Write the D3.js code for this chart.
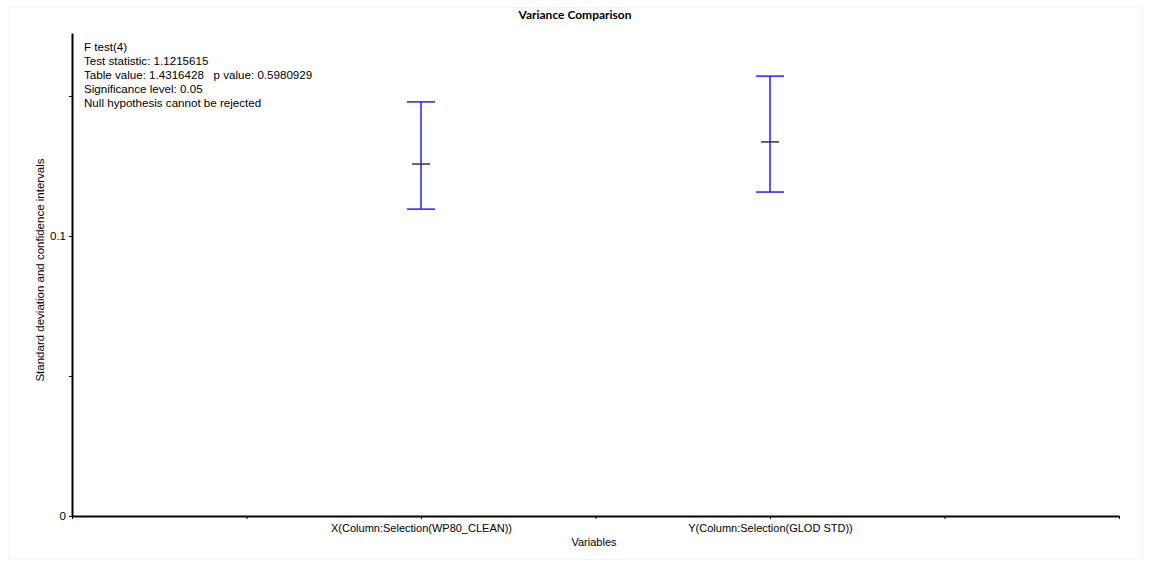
<!DOCTYPE html>
<html lang="en">
<head>
<meta charset="UTF-8">
<title>Variance Comparison</title>
<style>
    body { margin: 0; background: #fff; font-family: "Liberation Sans", Arial, sans-serif; }
    #chart { display: block; }
    .axis path, .axis line { stroke: #000; }
    .axis text { fill: #000; font-family: "Liberation Sans", Arial, sans-serif; }
</style>
</head>
<body>
<svg id="chart" width="1151" height="568"></svg>
<script src="https://d3js.org/d3.v7.min.js"></script>
<script>
// data
const categories = ["X(Column:Selection(WP80_CLEAN))", "Y(Column:Selection(GLOD STD))"];
const catPositions = [2, 4];
const stdDev = [0.1257, 0.1336];
const ciLower = [0.1096, 0.1157];
const ciUpper = [0.1479, 0.1571];
const yTickValues = [0, 0.05, 0.1, 0.15];
const yTickLabels = { 0: "0", 0.1: "0.1" };
const testLines = [
    "F test(4)",
    "Test statistic: 1.1215615",
    "Table value: 1.4316428   p value: 0.5980929",
    "Significance level: 0.05",
    "Null hypothesis cannot be rejected"
];

const svg = d3.select("#chart");
const margin = { left: 72, right: 32, top: 33, bottom: 52 };
const width = 1151, height = 568;

// faint frame of the screenshot
svg.append("rect")
    .attr("x", 8.5).attr("y", 7.5)
    .attr("width", 1134).attr("height", 552)
    .attr("fill", "none").attr("stroke", "#f4f4f4");

const x = d3.scaleLinear().domain([0, 6]).range([margin.left, width - margin.right]);
const y = d3.scaleLinear().domain([0, 0.1725]).range([height - margin.bottom, margin.top]);

// y axis
const yAxis = svg.append("g")
    .attr("class", "axis")
    .attr("transform", `translate(${margin.left},0)`)
    .call(d3.axisLeft(y)
        .tickValues(yTickValues)
        .tickSize(3)
        .tickSizeOuter(0)
        .tickFormat(d => yTickLabels[d] || ""));
yAxis.select(".domain").attr("stroke-width", 2);
yAxis.selectAll("text").style("font-size", "11.5px");

// x axis
const xAxis = svg.append("g")
    .attr("class", "axis")
    .attr("transform", `translate(0,${height - margin.bottom})`)
    .call(d3.axisBottom(x)
        .tickValues(d3.range(0, 7))
        .tickSize(3)
        .tickSizeOuter(0)
        .tickFormat(d => {
            const i = catPositions.indexOf(d);
            return i >= 0 ? categories[i] : "";
        }));
xAxis.select(".domain").attr("stroke-width", 2);
xAxis.selectAll("text").attr("dy", "0.95em").style("font-size", "11px");

// title
svg.append("text")
    .attr("x", 575).attr("y", 19)
    .attr("text-anchor", "middle")
    .attr("font-size", 12).attr("font-weight", "bold")
    .attr("font-family", "Lato, 'Liberation Sans', sans-serif")
    .text("Variance Comparison");

// axis titles
svg.append("text")
    .attr("x", 594).attr("y", 546)
    .attr("text-anchor", "middle")
    .attr("font-size", 11)
    .text("Variables");

svg.append("text")
    .attr("transform", "translate(44,270) rotate(-90)")
    .attr("text-anchor", "middle")
    .attr("font-size", 11.5)
    .text("Standard deviation and confidence intervals");

// test summary
svg.append("g").selectAll("text")
    .data(testLines)
    .join("text")
    .attr("x", 84)
    .attr("y", (d, i) => 51 + i * 14)
    .attr("font-size", 11.6)
    .style("white-space", "pre")
    .text(d => d);

// confidence intervals
const bars = svg.append("g").selectAll("g")
    .data(categories.map((c, i) => ({ pos: catPositions[i], sd: stdDev[i], lo: ciLower[i], hi: ciUpper[i] })))
    .join("g");

bars.append("line")
    .attr("x1", d => x(d.pos)).attr("x2", d => x(d.pos))
    .attr("y1", d => y(d.hi)).attr("y2", d => y(d.lo))
    .attr("stroke", "#2020ff").attr("stroke-width", 1.5);

bars.append("line")
    .attr("x1", d => x(d.pos) - 14).attr("x2", d => x(d.pos) + 14)
    .attr("y1", d => y(d.hi)).attr("y2", d => y(d.hi))
    .attr("stroke", "#2020ff").attr("stroke-width", 1.5);

bars.append("line")
    .attr("x1", d => x(d.pos) - 14).attr("x2", d => x(d.pos) + 14)
    .attr("y1", d => y(d.lo)).attr("y2", d => y(d.lo))
    .attr("stroke", "#2020ff").attr("stroke-width", 1.5);

bars.append("line")
    .attr("x1", d => x(d.pos) - 9).attr("x2", d => x(d.pos) + 9)
    .attr("y1", d => y(d.sd)).attr("y2", d => y(d.sd))
    .attr("stroke", "#333").attr("stroke-width", 1.5);
</script>
</body>
</html>
